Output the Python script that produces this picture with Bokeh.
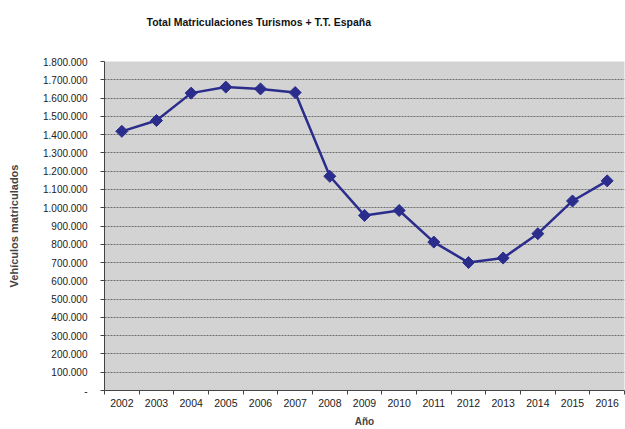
import math
from bokeh.plotting import figure
from bokeh.models import FixedTicker, Title
from bokeh.embed import file_html
from bokeh.resources import INLINE

years = [2002, 2003, 2004, 2005, 2006, 2007, 2008, 2009, 2010, 2011, 2012, 2013, 2014, 2015, 2016]
matriculaciones = [1418000, 1477000, 1627000, 1660000, 1650000, 1630000, 1172000, 958000,
                   985000, 812000, 700000, 725000, 858000, 1037000, 1147000]
y_ticks = [i * 100000 for i in range(19)]
y_tick_labels = ["-", "100.000", "200.000", "300.000", "400.000", "500.000", "600.000",
                 "700.000", "800.000", "900.000", "1.000.000", "1.100.000", "1.200.000",
                 "1.300.000", "1.400.000", "1.500.000", "1.600.000", "1.700.000", "1.800.000"]
x_tick_labels = [str(y) for y in years]
title_text = "Total Matriculaciones Turismos + T.T. España"

FONT = "Liberation Sans"

p = figure(width=625, height=429, output_backend="svg", toolbar_location=None,
           x_range=(years[0] - 0.5, years[-1] + 0.5), y_range=(0, 1800000),
           min_border_left=104, min_border_right=1, min_border_top=61, min_border_bottom=37)

# trailing blank lines lift the title towards the top of the page
p.add_layout(Title(text=title_text + "\n \n ", align="left", offset=42,
                   text_font=FONT, text_font_size="10.5px", text_font_style="bold",
                   text_color="#111111", standoff=20), "above")

p.background_fill_color = "#d3d3d3"
p.border_fill_color = "white"
p.outline_line_color = None

p.line(years, matriculaciones, line_color="#2b2d8c", line_width=2.5)
p.scatter(years, matriculaciones, marker="square", size=8.5, angle=math.pi / 4,
          fill_color="#2b2d8c", line_color="#2b2d8c")

# x axis
p.xaxis.ticker = FixedTicker(ticks=years, minor_ticks=[y + 0.5 for y in [years[0] - 1] + years])
p.xaxis.major_label_overrides = {y: s for y, s in zip(years, x_tick_labels)}
p.xaxis.major_tick_out = 0
p.xaxis.major_tick_in = 0
p.xaxis.minor_tick_out = 4
p.xaxis.minor_tick_in = 0
p.xaxis.minor_tick_line_color = "#444444"
p.xaxis.axis_line_color = "#444444"
p.xaxis.major_label_standoff = 4
p.xaxis.axis_label = "Año"
p.xaxis.axis_label_text_font = FONT
p.xaxis.axis_label_text_font_size = "10px"
p.xaxis.axis_label_text_font_style = "bold"
p.xaxis.axis_label_standoff = 6
p.xaxis.major_label_text_font = FONT
p.xaxis.major_label_text_font_size = "10.5px"
p.xaxis.major_label_text_color = "#222222"

# y axis
p.yaxis.ticker = FixedTicker(ticks=y_ticks, minor_ticks=[])
p.yaxis.major_label_overrides = {t: s for t, s in zip(y_ticks, y_tick_labels)}
p.yaxis.major_tick_out = 4
p.yaxis.major_tick_in = 0
p.yaxis.major_tick_line_color = "#444444"
p.yaxis.axis_line_color = "#444444"
p.yaxis.major_label_standoff = 13
p.yaxis.major_label_text_font = FONT
p.yaxis.major_label_text_font_size = "10px"
p.yaxis.major_label_text_color = "#222222"
p.yaxis.axis_label = "Vehículos matriculados"
p.yaxis.axis_label_text_font = FONT
p.yaxis.axis_label_text_font_size = "11px"
p.yaxis.axis_label_text_font_style = "bold"
p.yaxis.axis_label_standoff = 20

p.xgrid.grid_line_color = None
p.ygrid.grid_line_color = "#6e6e6e"
p.ygrid.grid_line_dash = "2 1"
p.ygrid.grid_line_width = 1

open("out.html", "w").write(file_html(p, INLINE))
